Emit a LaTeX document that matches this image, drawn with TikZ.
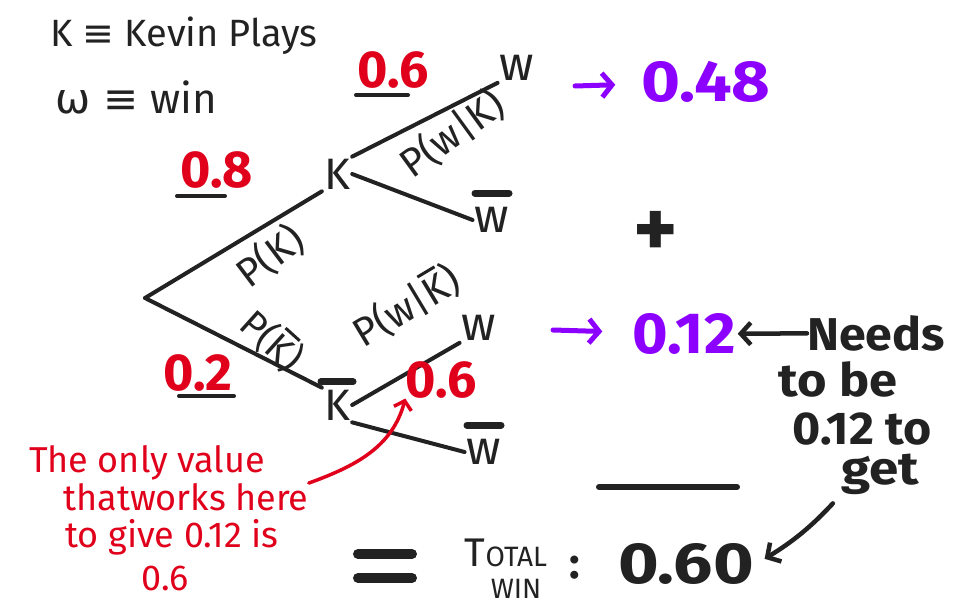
\documentclass[tikz,border=0pt]{standalone}
\usepackage{fontspec}
\setmainfont{Fira Sans}
\newfontfamily\symf{DejaVu Sans}
\usetikzlibrary{arrows.meta}
\definecolor{ink}{HTML}{222222}
\definecolor{rd}{HTML}{E0001B}
\definecolor{pu}{HTML}{8C00FF}
\newcommand{\fs}[1]{\fontsize{#1}{#1}\selectfont}
\begin{document}
\begin{tikzpicture}[x=1pt,y=-1pt,line cap=round,line join=round,
  branch/.style={draw=ink,line width=4pt},
  bar/.style={draw=ink,line width=7pt},
  lab/.style={text=ink,font=\fs{44},inner sep=2pt},
  wlab/.style={text=ink,font=\fs{48},inner sep=2pt},
  plab/.style={text=ink,font=\fs{40},inner sep=0pt},
  rnum/.style={text=rd,font=\fs{52}\bfseries,inner sep=0pt},
  pnum/.style={text=pu,font=\fs{58}\bfseries,inner sep=2pt},
  knum/.style={text=ink,font=\fs{58}\bfseries,inner sep=2pt},
  rtxt/.style={text=rd,font=\fs{36},inner sep=0pt},
  ktxt/.style={text=ink,font=\fs{46}\bfseries,inner sep=0pt},
  parrow/.style={draw=pu,line width=5pt,-{Straight Barb[length=10pt,width=24pt]}},
  karrow/.style={draw=ink,line width=4.5pt,-{Straight Barb[length=10pt,width=22pt]}},
  rarrow/.style={draw=rd,line width=3.5pt,-{Straight Barb[length=8pt,width=18pt]}},
  uline/.style={draw=ink,line width=4pt}]
\useasboundingbox (0,0) rectangle (965,612);
\fill[white] (0,0) rectangle (965,612);

% legend
\node[text=ink,font=\fs{38},anchor=west,inner sep=0pt] (leg1) at (50,36) {K {\symf ≡} Kevin Plays};
\node[text=ink,font=\fs{42},anchor=west,inner sep=0pt] (leg2) at (55,97) {{\symf ω ≡} win};

% tree
\coordinate (R) at (145,298);
\node[lab] (K1) at (337,174) {K};
\node[lab] (K2) at (337,405) {K};
\node[wlab] (W1) at (517,68) {w};
\node[wlab] (W1b) at (492,220) {w};
\node[wlab] (W2) at (479,328) {w};
\node[wlab] (W2b) at (484,452) {w};
\draw[bar] ([xshift=-16pt,yshift=6pt]K2.north) -- ++(32,0);
\draw[bar] ([xshift=-17pt,yshift=12pt]W1b.north) -- ++(34,0);
\draw[bar] ([xshift=-17pt,yshift=12pt]W2b.north) -- ++(34,0);

\draw[branch] (R) -- (K1.south west);
\draw[branch] (R) -- (K2.north west);
\draw[branch] (K1.north east) -- (W1.south west);
\draw[branch] (K1.east) -- (W1b.west);
\draw[branch] (K2.east) -- (W2.south west);
\draw[branch] (K2.south east) -- (W2b.west);

% branch labels
\node[plab,rotate=37] (pk) at (270,256) {P(K)};
\node[plab,font=\fs{38},rotate=-42] (pkb) at (272,340) {P(K\llap{\rule[0.8em]{0.5em}{3pt}\kern0.03em})};
\node[plab,rotate=36] (pwk) at (452,134) {P(w|K)};
\node[plab,rotate=31] (pwkb) at (406,306) {P(w|K\llap{\rule[0.8em]{0.5em}{3pt}\kern0.03em})};

% red probabilities
\node[rnum] (r06a) at (393,70) {0.6};
\draw[uline] (356,95) -- (408,95);
\node[rnum] (r08) at (217,170) {0.8};
\draw[uline] (177,196) -- (225,196);
\node[rnum] (r02) at (198,373) {0.2};
\draw[uline] (179,396) -- (234,396);
\node[rnum] (r06b) at (441,380) {0.6};

% results
\coordinate (c48) at (575,86);
\node[pnum] (n48) at (706,82) {\scalebox{1.15}[1]{0.48}};
\draw[parrow,shorten >=24pt] (c48) -- (n48);
\node[text=ink,font=\fs{84}\bfseries,inner sep=0pt] (plus) at (656,234) {+};
\coordinate (c12) at (553,330);
\node[pnum] (n12) at (684,334) {\scalebox{1.05}[1]{0.12}};
\draw[parrow,shorten >=28pt] (c12) -- (n12);

\node[ktxt] (nd1) at (876,333) {\scalebox{1.05}[1]{Needs}};
\node[ktxt] (nd2) at (838,379) {\scalebox{1.1}[1]{to be}};
\node[ktxt] (nd3) at (862,429) {\scalebox{1.05}[1]{0.12 to}};
\node[ktxt] (nd4) at (880,474) {\scalebox{1.15}[1]{get}};
\draw[karrow] (nd1) -- (n12);

\draw[draw=ink,line width=6pt] (599,487) -- (737,487);

% total
\draw[draw=ink,line width=10pt] (358,554) -- (412,554);
\draw[draw=ink,line width=10pt] (358,578) -- (412,578);
\node[text=ink,font=\fs{28},inner sep=0pt] (tot) at (506,553) {{\fs{40}T}OTAL};
\node[text=ink,font=\fs{28},inner sep=0pt] (win) at (516,589) {WIN};
\node[text=ink,font=\fs{44}\bfseries,inner sep=0pt] (col) at (575,568) {:};
\node[knum] (n60) at (686,564) {\scalebox{1.2}[1]{0.60}};
\draw[karrow,shorten <=12pt,shorten >=10pt] (nd4.south west) to[bend left=8] (n60.east);

% red note
\node[rtxt] (rt1) at (147,463) {The only value};
\node[rtxt] (rt2) at (186,497) {thatworks here};
\node[rtxt] (rt3) at (172,537) {to give 0.12 is};
\node[rtxt] (rt4) at (165,578) {0.6};
\draw[rarrow] (rt2.north east) to[out=20,in=-105] (r06b.south west);
\end{tikzpicture}
\end{document}
